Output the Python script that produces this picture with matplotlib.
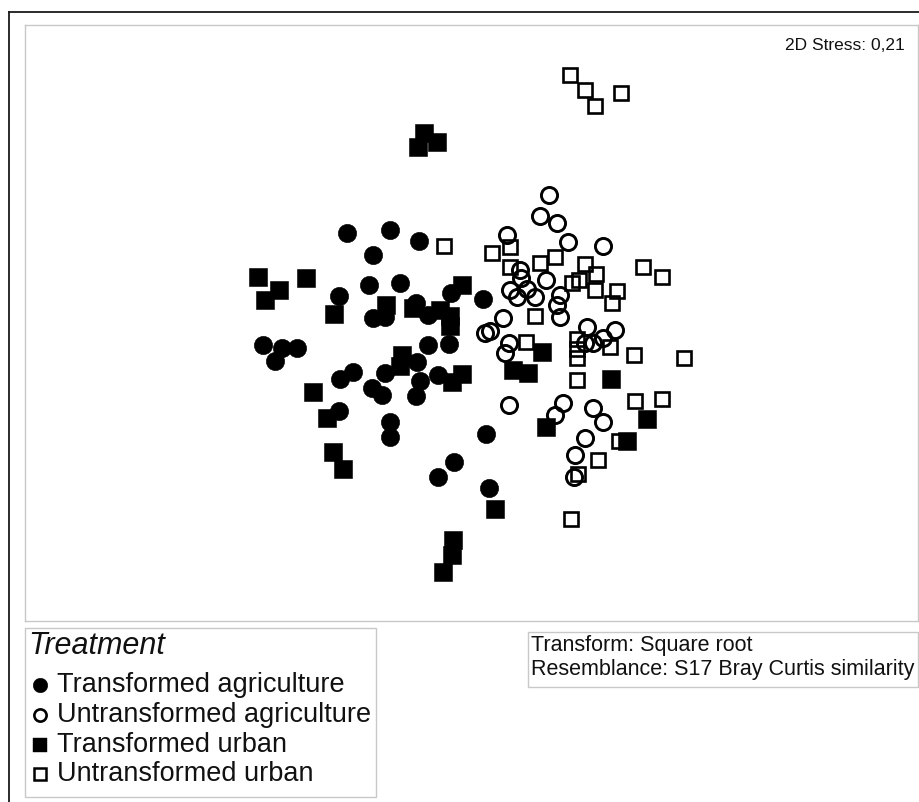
import matplotlib
matplotlib.use('Agg')
import matplotlib.pyplot as plt
from matplotlib.lines import Line2D
from matplotlib.patches import Rectangle

# ---------------- data (MDS coordinates) ----------------
ta_x = [347, 390, 419, 373, 369, 400, 339, 483, 451, 416, 373, 385, 428, 263, 282, 297, 275,
        428, 449, 417, 353, 340, 385, 372, 382, 420, 416, 438, 339, 390, 390, 486, 454, 438, 489]
ta_y = [233, 230, 241, 255, 285, 283, 296, 299, 293, 303, 318, 317, 315, 345, 348, 348, 361,
        345, 344, 362, 372, 379, 373, 388, 395, 381, 396, 375, 411, 422, 437, 434, 462, 477, 488]

ua_x = [549, 540, 557, 507, 568, 603, 520, 521, 546, 510, 517, 527, 535, 560, 557, 560, 503,
        485, 490, 509, 505, 587, 615, 585, 593, 603, 509, 563, 555, 593, 603, 585, 575, 574]
ua_y = [195, 216, 223, 235, 242, 246, 270, 278, 280, 290, 297, 289, 297, 295, 305, 317, 318,
        333, 331, 343, 353, 327, 330, 343, 343, 338, 405, 403, 415, 408, 422, 438, 455, 477]

tu_x = [424, 437, 418, 258, 279, 265, 306, 334, 386, 462, 440, 450, 450, 413, 402, 400, 313,
        327, 333, 343, 462, 452, 495, 453, 452, 443, 542, 513, 528, 611, 546, 647, 627]
tu_y = [133, 142, 147, 277, 290, 300, 278, 314, 305, 285, 310, 316, 326, 308, 355, 366, 392,
        418, 452, 469, 374, 382, 509, 540, 555, 572, 352, 370, 373, 379, 427, 419, 441]

uu_x = [570, 585, 595, 621, 444, 492, 510, 555, 540, 510, 585, 596, 643, 662, 572, 579, 595,
        617, 612, 535, 526, 577, 577, 610, 634, 684, 577, 577, 635, 662, 619, 598, 578, 571]
uu_y = [75, 90, 106, 93, 246, 253, 247, 257, 263, 267, 264, 274, 267, 277, 283, 280, 290,
        291, 303, 316, 342, 339, 349, 347, 355, 358, 358, 380, 401, 399, 441, 460, 474, 519]

labels = ["Transformed agriculture", "Untransformed agriculture",
          "Transformed urban", "Untransformed urban"]
stress_text = "2D Stress: 0,21"
info_lines = ["Transform: Square root", "Resemblance: S17 Bray Curtis similarity"]

# ---------------- figure ----------------
W, H = 920, 802
plt.rcParams['font.family'] = ['Liberation Sans', 'DejaVu Sans']
fig = plt.figure(figsize=(W / 100, H / 100), dpi=100)


def fx(x):
    return x / W


def fy(y):
    return 1 - y / H


# outer dark frame (top and left)
fig.add_artist(Line2D([fx(9), 1.0], [fy(12), fy(12)], color='#1a1a1a', lw=1.3))
fig.add_artist(Line2D([fx(9), fx(9)], [fy(12), 0.0], color='#1a1a1a', lw=1.3))

# plot panel
ax = fig.add_axes([fx(25), fy(621), fx(918) - fx(25), fy(25) - fy(621)])
ax.set_xlim(25, 918)
ax.set_ylim(621, 25)
ax.set_xticks([])
ax.set_yticks([])
for s in ax.spines.values():
    s.set_color('#c8c8c8')
    s.set_linewidth(1.0)

ax.plot(ta_x, ta_y, 'o', ms=13.2, mfc='black', mec='black', mew=0.4, ls='none')
ax.plot(tu_x, tu_y, 's', ms=12.6, mfc='black', mec='black', mew=0.4, ls='none')
ax.plot(ua_x, ua_y, 'o', ms=11.6, mfc='none', mec='black', mew=2.1, ls='none')
ax.plot(uu_x, uu_y, 's', ms=10.2, mfc='none', mec='black', mew=1.9, ls='none')

ax.text(905, 45, stress_text, ha='right', va='center', fontsize=12.5, color='#111111')

# legend box
fig.add_artist(Rectangle((fx(25), fy(797)), fx(376) - fx(25), fy(628) - fy(797),
                         transform=fig.transFigure, fill=False, ec='#c8c8c8', lw=1.0))
fig.text(fx(28), fy(646), "Treatment", fontsize=22, style='italic', ha='left', va='center',
         color='#111111')
rows_y = [685, 715, 745, 774]
styles = [dict(marker='o', ms=10.5, mfc='black', mec='black', mew=0.3),
          dict(marker='o', ms=8.8, mfc='none', mec='black', mew=1.9),
          dict(marker='s', ms=10.0, mfc='black', mec='black', mew=0.3),
          dict(marker='s', ms=8.2, mfc='none', mec='black', mew=1.8)]
for yy, lab, st in zip(rows_y, labels, styles):
    fig.add_artist(Line2D([fx(40)], [fy(yy)], ls='none', **st))
    fig.text(fx(57), fy(yy), lab, fontsize=19.5, ha='left', va='center', color='#111111')

# info box
fig.add_artist(Rectangle((fx(528), fy(687)), fx(918) - fx(528), fy(632) - fy(687),
                         transform=fig.transFigure, fill=False, ec='#c8c8c8', lw=1.0))
fig.text(fx(531), fy(645), info_lines[0], fontsize=15.5, ha='left', va='center', color='#111111')
fig.text(fx(531), fy(670), info_lines[1], fontsize=15.5, ha='left', va='center', color='#111111')

fig.savefig('out.png', dpi=100)
